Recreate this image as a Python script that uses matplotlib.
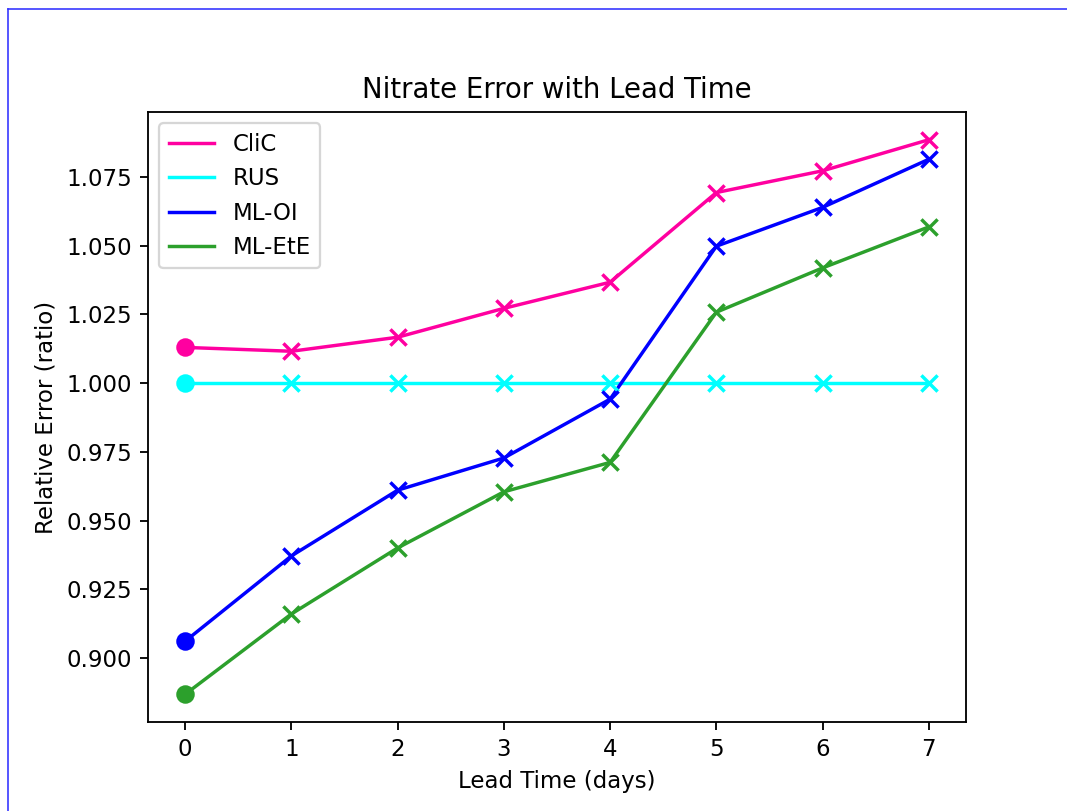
import matplotlib
matplotlib.use("Agg")
import matplotlib.pyplot as plt
from matplotlib.lines import Line2D

lead_days = [0, 1, 2, 3, 4, 5, 6, 7]
clic = [1.0130, 1.0116, 1.0167, 1.0272, 1.0367, 1.0693, 1.0772, 1.0885]
rus = [1.0, 1.0, 1.0, 1.0, 1.0, 1.0, 1.0, 1.0]
ml_oi = [0.9062, 0.9372, 0.9611, 0.9728, 0.9942, 1.0498, 1.0639, 1.0814]
ml_ete = [0.8869, 0.9161, 0.9401, 0.9605, 0.9712, 1.0258, 1.0419, 1.0568]
series_names = ["CliC", "RUS", "ML-OI", "ML-EtE"]
series_colors = ["#ff00a0", "cyan", "blue", "tab:green"]

W, H = 1067, 811
dpi = 165
fig = plt.figure(figsize=(W / dpi, H / dpi), dpi=dpi)
ax = fig.add_axes([148 / W, 1 - 722 / H, (966 - 148) / W, (722 - 112) / H])

for name, vals, col in zip(series_names, [clic, rus, ml_oi, ml_ete], series_colors):
    ax.plot(lead_days, vals, color=col, label=name)
    ax.scatter(lead_days[:1], vals[:1], marker="o", s=50, color=col, zorder=3)
    ax.scatter(lead_days[1:], vals[1:], marker="x", s=50, color=col, zorder=3)

ax.set_title("Nitrate Error with Lead Time")
ax.set_xlabel("Lead Time (days)")
ax.set_ylabel("Relative Error (ratio)")
ax.legend(loc="upper left")

# screenshot frame
fig.add_artist(Line2D([7.5 / W, 7.5 / W], [0, 1 - 8.5 / H], transform=fig.transFigure,
                      color="#3030ff", lw=0.7))
fig.add_artist(Line2D([7.5 / W, 1], [1 - 8.5 / H, 1 - 8.5 / H], transform=fig.transFigure,
                      color="#3030ff", lw=0.7))

fig.savefig("out.png", dpi=dpi)
